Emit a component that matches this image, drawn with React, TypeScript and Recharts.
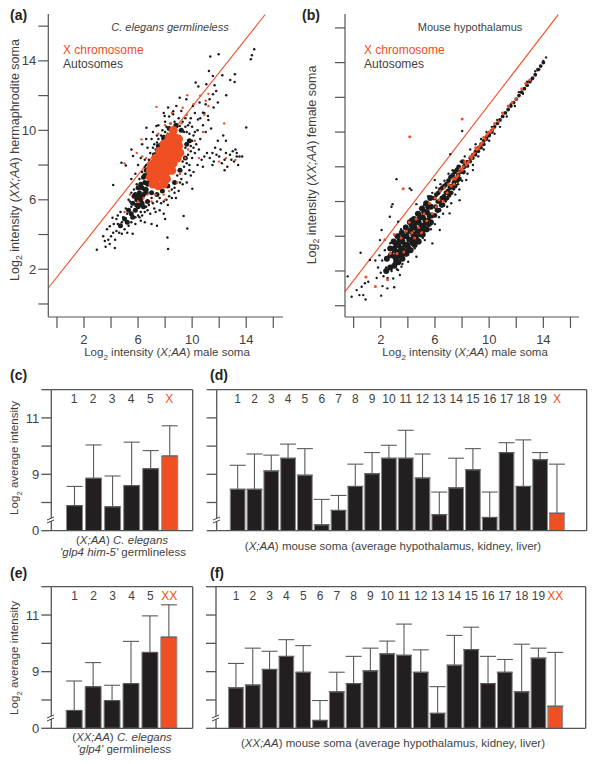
import React from 'react';
import { ScatterChart, Scatter, XAxis, YAxis, ReferenceLine, BarChart, Bar, Cell, ErrorBar } from 'recharts';

const ORANGE = '#F04E23';
const AXIS = '#555555';
const TEXT = '#3f3f3f';
const FONT = '"Liberation Sans", Arial, sans-serif';

const scatterXTicks = [0, 2, 4, 6, 8, 10, 12, 14, 16];
const scatterYTicks = [0, 2, 4, 6, 8, 10, 12, 14, 16];
const labelledTicks = [2, 6, 10, 14];

const aBlackSparse = [2.95,3.13,3.42,3.9,3.54,3.62,3.6,3.3,3.8,3.7,3.9,3.45,4.28,3.23,4.16,4.1,3.91,4.48,4.11,4.96,3.7,4.3,4.0,3.9,4.3,3.7,4.4,4.2,4.5,4.6,4.2,4.6,4.6,4.1,4.8,4.05,5.0,4.3,5.2,4.1,5.6,4.05,4.5,5.1,4.7,5.3,4.9,5.0,5.1,5.5,5.3,4.5,5.5,4.7,5.8,4.6,4.4,4.9,4.8,4.7,5.1,4.9,
4.16,6.85,4.77,8.13,5.09,7.98,5.51,8.9,5.63,8.52,6.62,10.15,7.36,10.25,9.08,11.88,8.17,3.83,8.22,3.17,9.64,4.35,9.37,5.06,10.01,6.63,14,10.17,11.34,14.25,11.96,14.38,14.34,14.1,14.42,14.33,14.59,14.67,11.24,13.42,13.16,13.23,12.82,12.9,13.14,12.79,12.23,13.17,11.54,13.13,10.26,12.75,10.46,12.52,12.52,12.02,11.05,12.65,11.66,12.6,11.78,12.27,11.54,12.08,11.29,11.79,11.9,11.6,11.59,11.31,11,11.5,10.55,11.6,10.06,11.4,9.57,11.79,8.83,11.4,8.22,11.31,7.97,10.83,8.59,10.92,9.2,11.12,10.8,11.02,11.17,10.83,10.43,10.63,9.82,10.44,9.08,10.25,
6.2,4.8,6.5,4.7,7.0,4.6,7.4,4.5,6.9,5.2,7.3,5.3,7.6,5.4,7.9,5.2,8.0,4.9,7.7,5.8,8.2,5.7,8.5,6.1,6.3,5.1,6.7,5.4,7.1,5.8,8.7,6.4,9.0,6.5,9.3,6.9,9.6,7.0,9.9,7.4,9.5,7.5,9.2,7.2,10.1,7.6,10.4,8.0,
5.5,7.2,5.8,7.5,6.0,8.0,6.2,8.4,6.5,8.3,6.3,9.2,6.7,9.0,6.6,9.5,7.0,9.5,7.1,9.9,7.4,9.7,7.5,10.3,7.8,10.0,8.0,10.5,8.3,10.8,7.9,11.0,8.6,11.1,
9.8,8.0,10.0,8.4,10.2,8.7,10.5,8.9,10.7,8.3,10.3,9.2,10.1,9.7,10.6,9.5,10.0,10.2,10.4,10.0,10.8,10.3,11.0,9.9,10.6,10.7,10.9,11.0,10.2,11.0,11.2,10.6,11.4,10.1,9.6,9.9,9.9,10.7,9.5,10.7,
10.9,8.5,11.1,8.7,11.3,8.4,11.5,8.7,11.6,8.2,11.8,8.6,12.0,8.5,12.1,8.9,12.2,8.1,12.4,8.3,12.5,8.7,12.6,7.9,12.8,8.6,12.9,8.3,13.0,8.8,13.1,8.2,13.2,8.9,13.3,8.5,13.4,8.0,13.5,8.5,13.7,8.5,13.3,8.7,12.4,7.7,11.5,8.0,10.8,7.9,11.9,9.4,12.3,9.7,12.5,9.4,11.7,9.0,
6.1,7.2,6.3,7.6,6.5,7.9,6.6,8.0,6.8,8.3,6.9,8.7,7.0,8.2,7.1,9.0,7.2,9.2,7.3,8.9,7.4,9.3,7.5,9.5,7.6,9.2,7.7,9.7,7.8,9.5,8.0,9.9,8.1,10.2,8.2,9.8,8.4,10.4,8.5,10.0,8.7,10.5,8.9,10.2,9.0,10.7,9.1,10.0,9.3,10.5,9.4,9.9,9.5,10.2,9.7,10.3,9.8,9.8,10.0,9.4,10.2,9.9,9.7,9.4,9.9,9.1,9.5,9.0,9.7,8.6,9.9,8.8,10.1,9.0,9.6,8.1,9.4,7.9,9.3,8.2,9.8,7.7,9.1,7.0,8.9,7.4,8.7,6.7,8.5,6.6,8.8,6.1,8.3,6.2,8.1,6.0,7.9,5.9,7.6,6.1,7.4,5.9,7.2,5.5,7.0,6.1,6.8,5.7,6.6,5.6,6.5,5.3,6.2,5.3,6.0,5.1,5.8,5.0,5.5,5.6,5.4,5.9,5.3,6.0,5.2,5.2,5.7,6.6,5.5,6.4,5.9,6.9,6.1,5.0];
const aBlackDense = [5.3,5.4,5.5,5.2,5.6,5.8,5.8,5.4,5.7,6.2,5.9,6.0,6.0,5.6,6.1,6.4,6.2,6.0,6.3,6.7,6.4,6.3,6.5,7.0,6.6,6.6,6.7,7.4,6.8,7.0,6.2,6.9,6.0,6.7,6.9,7.7,5.6,5.0,5.0,4.9,5.2,4.7,4.7,4.5,6.4,5.6,6.7,5.9,5.9,5.7,6.1,6.1,6.3,6.2,6.5,6.6,6.7,6.9,6.1,5.7,6.3,5.8,5.8,6.3,6.0,6.2,6.5,7.4,6.4,7.3,6.6,7.7,
6.6,6.4,6.8,7.8,7.0,6.4,7.2,8.6,7.4,6.3,7.5,9.1,7.8,6.5,7.9,9.6,8.2,6.8,8.3,10.1,8.7,7.0,8.8,10.3,9.1,7.7,9.2,10.0,9.5,8.4,9.6,9.2,9.8,9.4];
const aOrangeSparse = [7.36,11.35,9.64,12.02,12.37,10.4,11.2,12.1,11.0,11.7,11.2,11.4,10.9,10.9,10.8,9.9,10.1,11.5,9.3,11.3,9.6,10.9,9.2,10.4,8.5,11.0,8.0,10.3,5.0,8.1,6.25,9.48,5.9,8.7,6.3,8.5,6.6,8.4,5.4,6.3,5.0,5.3,6.0,5.9,6.4,6.1,6.7,6.3,7.0,5.9,7.3,6.3,7.9,6.3,8.3,6.5,8.9,7.0,9.1,7.5,9.5,8.4,9.7,8.9,10.2,9.4,10.5,8.4,12.5,8.4,13.2,8.3,12.0,8.2,8.0,6.0,8.4,10.4,7.5,9.8,10.6,12.0];
const aOrangeCore = [7.1,6.9,7.5,6.8,7.9,6.9,6.9,7.3,7.3,7.2,7.7,7.3,8.1,7.2,6.9,7.7,7.3,7.6,7.7,7.7,8.1,7.6,8.5,7.7,7.0,8.0,7.4,8.0,7.8,8.0,8.2,8.0,8.6,8.1,7.3,8.4,7.7,8.4,8.1,8.4,8.5,8.4,8.9,8.4,7.6,8.8,8.0,8.8,8.4,8.8,8.8,8.8,9.1,8.7,7.9,9.2,8.3,9.2,8.7,9.2,9.0,9.1,8.3,9.6,8.7,9.6,9.0,9.5,8.6,10.0];

const bBlackSparse = [-0.44,1.69,-0.15,0.52,0.42,0.61,0.22,0.9,0.71,0.61,0.88,0.36,0.59,1.09,0.83,1.29,1.08,1.38,2.03,0.58,2.13,1.13,2.48,1.0,2.99,1.06,1.2,2.63,0.51,3.05,2.06,4.36,1.94,3.78,3.16,7.29,2.87,5.85,2.79,5.7,2.67,5.12,3.28,4.84,8.01,10.06,7.13,8.73,4.14,6.76,4.26,6.66,4.63,5.85,5.98,7.24,
2.92,1.57,3.41,1.77,3.28,2.05,3.53,2.25,4.02,2.53,4.63,2.82,5.81,3.59,5.25,3.78,6.35,4.36,7.08,5.32,7.82,6.08,8.31,7.24,8.8,7.81,
1.6,2.6,1.7,1.6,1.8,2.2,1.9,2.9,2.0,1.9,2.1,2.6,2.2,1.7,2.3,3.2,2.4,2.2,2.5,1.6,2.6,2.9,2.7,3.6,2.8,2.0,2.9,3.1,3.0,2.5,3.1,4.0,3.2,2.1,3.3,3.4,3.4,2.8,3.5,4.4,3.6,2.4,3.7,3.7,3.8,4.6,3.9,2.9,4.0,4.1,4.1,3.1,4.2,5.0,4.3,3.6,4.4,4.6,4.5,3.3,4.6,5.3,4.7,4.0,4.8,3.6,4.9,5.6,5.0,4.4,5.1,3.9,5.2,5.8,5.3,4.8,5.4,4.3,5.5,6.3,5.6,5.0,5.7,4.4,5.8,6.5,5.9,5.2,6.0,4.7,6.1,6.8,6.2,5.4,6.3,5.1,6.4,7.0,6.5,5.7,6.6,5.3,6.7,7.2,6.8,6.0,6.9,5.7,7.0,7.6,7.1,6.3,7.2,5.9,7.3,7.8,7.4,6.7,7.5,6.4,7.6,7.9,7.7,7.0,7.8,6.7,7.9,8.3,8.0,7.2,8.2,8.6,8.4,7.6,8.6,9.0,8.8,8.1,9.0,9.3,9.2,8.6,9.4,9.6,9.6,9.0,9.8,10.0,10,9.5,10.2,10.3,10.4,9.9,10.6,10.7,10.8,10.3,11,11.1,11.3,10.9,11.6,11.6,11.9,11.5,12.2,12.3,12.5,12.2,12.8,12.9,13.1,13.0,13.4,13.5,13.7,13.6,14,14.1,14.2,14.3];
const bBlackWide = [2.4,2.0,2.45,2.7,2.7,2.2,2.75,2.9,2.7,3.3,3.0,2.3,3.05,2.8,3.0,3.3,2.95,3.7,3.3,2.5,3.35,3.0,3.3,3.5,3.25,4.0,3.6,2.7,3.65,3.2,3.6,3.7,3.55,4.2,3.9,3.0,3.95,3.5,3.9,4.0,3.85,4.5,4.2,3.2,4.25,3.8,4.2,4.3,4.15,4.8,4.5,3.5,4.55,4.0,4.5,4.5,4.45,5.0,4.8,3.7,4.85,4.3,4.8,4.8,4.75,5.3,5.1,4.1,5.15,4.6,5.1,5.1,5.05,5.6,5.4,4.4,5.45,4.9,5.4,5.4,5.35,5.9,5.7,4.8,5.75,5.2,5.7,5.7,5.65,6.2,
3.15,2.6,3.2,3.1,3.1,3.6,3.45,2.85,3.5,3.3,3.4,3.8,3.75,3.0,3.8,3.5,3.7,4.0,4.05,3.3,4.1,3.8,4.0,4.3,4.35,3.6,4.4,4.1,4.3,4.6,4.65,3.8,4.7,4.3,4.6,4.8,4.95,4.1,5.0,4.6,4.9,5.1,5.25,4.4,5.3,4.9,5.2,5.4,5.55,4.7,5.6,5.2,5.5,5.7];
const bBlackMid = [6.0,5.2,6.05,5.7,5.95,6.2,6.3,5.5,6.35,6.0,6.25,6.5,6.6,5.8,6.65,6.3,6.55,6.8,6.9,6.2,6.95,6.6,6.85,7.0,7.2,6.5,7.25,6.9,7.15,7.4,7.5,6.9,7.55,7.3,7.45,7.7,7.8,7.3,7.85,7.7,7.75,8.0,8.1,7.7,8.15,8.0,8.05,8.3,6.15,5.5,6.2,6.0,6.1,6.4,6.45,5.8,6.5,6.2,6.4,6.7,6.75,6.1,6.8,6.5,6.7,6.9,7.05,6.4,7.1,6.8,7.0,7.2,7.35,6.8,7.4,7.1,7.3,7.5,7.65,7.2,7.7,7.5,7.6,7.8];
const bBlackThin = [8.2,8.1,8.4,8.3,8.4,8.05,8.6,8.5,8.6,8.3,8.8,8.7,8.8,8.5,9.0,8.9,9.0,8.7,9.2,9.1,9.2,8.9,9.4,9.3,9.4,9.1,9.6,9.5,9.6,9.3,9.8,9.7,9.8,9.6,10,9.9,10,9.8,10.2,10.1,10.2,10.0,10.4,10.3,10.6,10.5,10.8,10.7,11,10.9,11.2,11.1,11.4,11.3,11.6,11.5,11.8,11.7,12,11.9,12.2,12.1,12.4,12.3,12.6,12.5,12.8,12.7,13,12.9,13.2,13.1,13.4,13.3,13.6,13.6,13.8,13.8,14,14];
const bOrange = [8.01,10.75,4.14,9.73,3.65,6.74,0.9,1.65,1.6,1.1,2.5,1.5,2.3,3.8,2.7,3.0,3.0,4.1,3.2,3.0,3.5,3.9,3.7,3.1,3.9,4.3,4.1,4.8,4.3,4.2,4.5,3.9,4.6,5.0,4.8,4.5,5.0,4.2,5.2,5.3,5.4,4.9,5.6,5.9,5.8,5.3,6.0,6.2,6.1,5.7,6.3,6.1,6.4,6.6,6.6,6.0,6.7,6.8,6.9,6.5,7.0,7.0,7.2,6.9,7.3,7.3,7.5,7.3,7.7,7.5,7.9,7.9,8.1,8.0,8.2,8.3,8.4,8.2,8.6,8.6,8.8,8.7,9.0,9.1,9.2,9.1,9.4,9.3,9.6,9.7,9.8,9.8,10.0,10.0,10.2,10.1,10.4,10.5,10.7,10.6,11,11.1,11.4,11.5,11.7,11.7,12.0,11.9,12.4,12.5,12.7,12.8,13.0,13.0,
8.3,8.1,8.5,8.3,8.7,8.5,8.9,8.8,9.1,9.0,9.3,9.2,9.5,9.4,9.7,9.6,9.9,9.9,10.1,10.0,10.3,10.2,7.4,7.0,7.6,7.4,7.8,7.7,8.0,7.8];

const cCats = ['1', '2', '3', '4', '5', 'X'];
const cVals = [7.89, 8.86, 7.85, 8.6, 9.2, 9.65];
const cTops = [8.57, 10.04, 8.94, 10.14, 9.84, 10.72];
const dCats = ['1','2','3','4','5','6','7','8','9','10','11','12','13','14','15','16','17','18','19','X'];
const dVals = [8.47,8.47,9.12,9.57,8.97,7.21,7.72,8.57,9.02,9.57,9.57,8.87,7.57,8.52,9.16,7.47,9.77,8.57,9.52,7.62];
const dTops = [9.32,9.72,9.68,10.07,9.91,8.11,8.25,9.36,9.77,10.03,10.56,9.72,8.37,9.57,9.91,8.37,10.12,10.22,9.77,9.36];
const eCats = ['1', '2', '3', '4', '5', 'XX'];
const eVals = [7.63, 8.47, 7.98, 8.58, 9.68, 10.22];
const eTops = [8.67, 9.32, 8.52, 10.07, 10.97, 11.36];
const fCats = ['1','2','3','4','5','6','7','8','9','10','11','12','13','14','15','16','17','18','19','XX'];
const fVals = [8.43,8.53,9.08,9.54,8.98,7.28,8.29,8.58,9.03,9.63,9.58,8.98,7.53,9.23,9.78,8.58,8.98,8.29,9.48,7.78];
const fTops = [9.29,9.83,9.72,10.13,9.92,7.98,8.98,9.54,9.83,10.08,10.68,9.77,8.47,10.28,10.57,9.54,9.43,9.97,9.83,9.68];
const barYTicks = [7, 8, 9, 10, 11, 12];
const barTickLabels: Record<number, string> = { 7: '0', 9: '9', 11: '11' };

const toPoints = (flat: number[]) => {
  const out: { x: number; y: number }[] = [];
  for (let i = 0; i + 1 < flat.length; i += 2) out.push({ x: flat[i], y: flat[i + 1] });
  return out;
};
const dot = (r: number, fill: string) => (p: any) => <circle cx={p.cx} cy={p.cy} r={r} fill={fill} />;

const Txt = ({ x, y, size = 12, color = TEXT, anchor = 'left', bold, italic, rot, children }: any) => {
  const tx = anchor === 'center' ? '-50%' : '0';
  return (
    <div style={{ position: 'absolute', left: x, top: y, whiteSpace: 'nowrap', fontSize: size, color, fontWeight: bold ? 700 : 400, fontStyle: italic ? 'italic' : 'normal', lineHeight: 1, transform: `translate(${tx},-50%)${rot ? ' rotate(-90deg)' : ''}`, transformOrigin: 'center' }}>{children}</div>
  );
};
const Lg = () => <>Log<sub style={{ fontSize: '0.7em', lineHeight: 0 }}>2</sub></>;
const Em = ({ children }: any) => <i>{children}</i>;

const ScatterPanel = ({ left, width, yw, mr, xDomain, yDomain, line, showY, series }: any) => (
  <div style={{ position: 'absolute', left, top: 0 }}>
    <ScatterChart width={width} height={365} margin={{ top: 14, right: mr, bottom: 0, left: 0 }}>
      <XAxis type="number" dataKey="x" domain={xDomain} ticks={scatterXTicks} allowDataOverflow height={48} interval={0} tickSize={11} tickMargin={7}
        tickFormatter={(v: number) => (labelledTicks.includes(v) ? String(v) : '')} stroke={AXIS} strokeWidth={1.2} tick={{ fontSize: 13, fill: TEXT }} />
      <YAxis type="number" dataKey="y" domain={yDomain} ticks={scatterYTicks} allowDataOverflow width={yw} interval={0} tickSize={10} tickMargin={2}
        tickFormatter={(v: number) => (showY && labelledTicks.includes(v) ? String(v) : '')} stroke={AXIS} strokeWidth={1.2} tick={{ fontSize: 13, fill: TEXT }} />
      {series.map((s: any, i: number) => (
        <Scatter key={i} data={toPoints(s.data)} isAnimationActive={false} shape={dot(s.r, s.fill)} />
      ))}
      <ReferenceLine segment={line} stroke={ORANGE} strokeWidth={1.1} ifOverflow="visible" />
    </ScatterChart>
  </div>
);

const BarPanel = ({ left, top, width, plotLeft, plotRight, plotTop, plotBottom, cats, vals, tops, barSize, capWidth, padL, padR, showY }: any) => {
  const data = cats.map((c: string, i: number) => ({ c, v: vals[i], t: tops[i] }));
  const height = plotBottom - top + 14;
  const last = cats.length - 1;
  return (
    <div style={{ position: 'absolute', left, top }}>
      <BarChart width={width} height={height} data={data} barCategoryGap={0}
        margin={{ top: plotTop - top, right: width - (plotRight - left) - 1, bottom: 0, left: 0 }}>
        <XAxis xAxisId="b" dataKey="c" height={14} tick={false} tickLine={false} stroke={AXIS} strokeWidth={1.3} padding={{ left: padL, right: padR }} />
        <XAxis xAxisId="t" dataKey="c" orientation="top" height={1} mirror tickLine={false} stroke={AXIS} strokeWidth={1.3} padding={{ left: padL, right: padR }} interval={0}
          tick={(p: any) => (
            <text x={p.x} y={plotTop - top + 13} textAnchor="middle" fontSize={12} fill={p.index === last ? ORANGE : TEXT}>{p.payload.value}</text>
          )} />
        <YAxis yAxisId="l" domain={[7, 12]} ticks={barYTicks} width={plotLeft - left} interval={0} tickSize={10} tickMargin={2} allowDataOverflow
          tickFormatter={(v: number) => (showY ? barTickLabels[v] ?? '' : '')} stroke={AXIS} strokeWidth={1.3} tick={{ fontSize: 13, fill: TEXT }} />
        <YAxis yAxisId="r" orientation="right" domain={[7, 12]} width={1} tick={false} tickLine={false} stroke={AXIS} strokeWidth={1.3} />
        <Bar xAxisId="b" yAxisId="l" dataKey="v" barSize={barSize} stroke="#8a8a8a" strokeWidth={1} isAnimationActive={false}>
          {data.map((_: any, i: number) => <Cell key={i} fill={i === last ? ORANGE : '#231F20'} />)}
          <ErrorBar dataKey={(d: any) => [0, d.t - d.v]} width={capWidth} stroke="#5a5a5a" strokeWidth={1.1} direction="y" isAnimationActive={false} />
        </Bar>
      </BarChart>
    </div>
  );
};

const Brk = ({ x, y }: any) => (
  <svg style={{ position: 'absolute', left: x - 6, top: y - 5 }} width={12} height={10}>
    <rect x={3} y={3} width={6} height={3} fill="#fff" />
    <line x1={2} y1={5} x2={9} y2={2} stroke="#444" />
    <line x1={2} y1={8} x2={9} y2={5} stroke="#444" />
  </svg>
);

export default function App() {
  return (
    <div style={{ position: 'absolute', left: 0, top: 0, width: 600, height: 764, background: '#fff', fontFamily: FONT, overflow: 'hidden' }}>
      <ScatterPanel left={0} width={300} yw={48.3} mr={17} xDomain={[-0.64, 16.72]} yDomain={[-0.75, 16.7]} showY
        line={[{ x: -0.64, y: 0.92 }, { x: 15.4, y: 16.67 }]}
        series={[
          { data: aBlackSparse, r: 1.25, fill: '#1c1c1c' },
          { data: aBlackDense, r: 2.5, fill: '#1c1c1c' },
          { data: aOrangeSparse, r: 1.2, fill: ORANGE },
          { data: aOrangeCore, r: 4.4, fill: ORANGE },
        ]} />
      <ScatterPanel left={300} width={300} yw={45} mr={21} xDomain={[-0.64, 16.63]} yDomain={[-0.65, 16.8]} showY={false}
        line={[{ x: -0.64, y: 0.81 }, { x: 15.1, y: 16.76 }]}
        series={[
          { data: bBlackSparse, r: 1.2, fill: '#1c1c1c' },
          { data: bBlackWide, r: 3, fill: '#1c1c1c' },
          { data: bBlackMid, r: 2.4, fill: '#1c1c1c' },
          { data: bBlackThin, r: 1.9, fill: '#1c1c1c' },
          { data: bOrange, r: 1.5, fill: ORANGE },
        ]} />

      <BarPanel left={0} top={365} width={205} plotLeft={51.3} plotRight={192.7} plotTop={389.7} plotBottom={530.7} cats={cCats} vals={cVals} tops={cTops} barSize={16} capWidth={8} padL={13.2} padR={13.9} showY />
      <BarPanel left={205} top={365} width={395} plotLeft={216.7} plotRight={586.7} plotTop={389.7} plotBottom={530.7} cats={dCats} vals={dVals} tops={dTops} barSize={14.7} capWidth={8} padL={12.6} padR={21.3} />
      <BarPanel left={0} top={565} width={205} plotLeft={51.3} plotRight={192.7} plotTop={586.7} plotBottom={728.3} cats={eCats} vals={eVals} tops={eTops} barSize={16} capWidth={8} padL={13.9} padR={13.9} showY />
      <BarPanel left={205} top={565} width={395} plotLeft={216} plotRight={585.7} plotTop={586.7} plotBottom={728.3} cats={fCats} vals={fVals} tops={fTops} barSize={14.7} capWidth={8} padL={11.6} padR={22} />
      <Brk x={51} y={520} /><Brk x={216.5} y={520} /><Brk x={51} y={718} /><Brk x={216} y={718} />

      <Txt x={10} y={15} size={14} color="#222" bold>(a)</Txt>
      <Txt x={302} y={15} size={14} color="#222" bold>(b)</Txt>
      <Txt x={10} y={375} size={14} color="#222" bold>(c)</Txt>
      <Txt x={210} y={375} size={14} color="#222" bold>(d)</Txt>
      <Txt x={10} y={573} size={14} color="#222" bold>(e)</Txt>
      <Txt x={210} y={573} size={14} color="#222" bold>(f)</Txt>

      <Txt x={170} y={27} size={11} anchor="center" italic>C. elegans germlineless</Txt>
      <Txt x={470} y={27} size={11} anchor="center">Mouse hypothalamus</Txt>
      <Txt x={63} y={50} size={12} color={ORANGE}>X chromosome</Txt>
      <Txt x={63} y={64} size={12}>Autosomes</Txt>
      <Txt x={364} y={50} size={12} color={ORANGE}>X chromosome</Txt>
      <Txt x={364} y={64} size={12}>Autosomes</Txt>

      <Txt x={15} y={160} size={12.5} anchor="center" rot><Lg /> intensity (<Em>XX;AA</Em>) hermaphrodite soma</Txt>
      <Txt x={312} y={165} size={12.5} anchor="center" rot><Lg /> intensity (<Em>XX;AA</Em>) female soma</Txt>
      <Txt x={167} y={353} size={11.5} anchor="center"><Lg /> intensity (<Em>X;AA</Em>) male soma</Txt>
      <Txt x={465} y={353} size={11.5} anchor="center"><Lg /> intensity (<Em>X;AA</Em>) male soma</Txt>

      <Txt x={15} y={458} size={11.5} anchor="center" rot><Lg /> average intensity</Txt>
      <Txt x={15} y={658} size={11.5} anchor="center" rot><Lg /> average intensity</Txt>

      <Txt x={122} y={541} size={11.5} anchor="center">(<Em>X;AA</Em>) <Em>C. elegans</Em></Txt>
      <Txt x={123} y={553} size={11.5} anchor="center"><Em>'glp4 him-5'</Em> germlineless</Txt>
      <Txt x={393} y={547} size={11.5} anchor="center">(<Em>X;AA</Em>) mouse soma (average hypothalamus, kidney, liver)</Txt>
      <Txt x={122} y={738} size={11.5} anchor="center">(<Em>XX;AA</Em>) <Em>C. elegans</Em></Txt>
      <Txt x={124} y={750} size={11.5} anchor="center"><Em>'glp4'</Em> germlineless</Txt>
      <Txt x={393} y={744} size={11.5} anchor="center">(<Em>XX;AA</Em>) mouse soma (average hypothalamus, kidney, liver)</Txt>
    </div>
  );
}
